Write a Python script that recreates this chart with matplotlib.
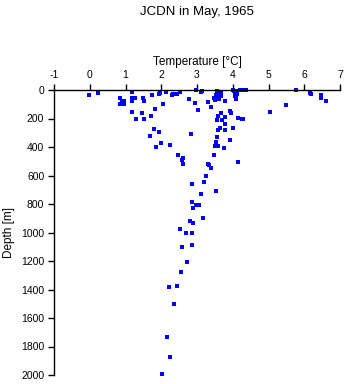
import matplotlib
matplotlib.use("Agg")
import matplotlib.pyplot as plt

plt.rcParams.update({"font.family": ["Liberation Sans", "DejaVu Sans"],
                     "axes.unicode_minus": False})

# temperature [degC] and depth [m] of every sample
temp = [-0.02, 0.23,
        0.84, 0.89, 0.95, 0.84, 0.95,
        1.17, 1.17, 1.26, 1.17, 1.18, 1.28,
        1.46, 1.49, 1.52, 1.52,
        1.72, 1.75, 1.82, 1.80, 1.68, 1.94,
        1.94, 1.96, 2.05, 1.99, 1.86,
        2.14, 2.25,
        2.30, 2.33, 2.43, 2.52,
        2.47, 2.57, 2.60, 2.62,
        2.79, 2.83, 2.86, 2.95, 2.98, 3.02,
        3.11, 2.87, 2.90, 2.98, 3.05, 3.17,
        2.81, 2.90, 2.53, 2.69, 2.86, 2.86, 2.58, 2.73, 2.55, 2.44, 2.22,
        2.36, 2.16, 2.25, 2.02,
        3.10, 3.14,
        3.20, 3.25, 3.31, 3.30, 3.33, 3.38, 3.38,
        3.48, 3.50, 3.54, 3.52, 3.57, 3.60, 3.60, 3.75,
        3.57, 3.70, 3.60, 3.66, 3.63, 3.78, 3.77, 3.79, 3.77,
        3.48, 3.51, 3.53, 3.56, 3.55, 3.62, 3.66, 3.66, 3.62, 3.58, 3.52,
        3.92, 3.94, 3.92, 4.00, 4.15, 4.15, 4.27, 4.30,
        4.00, 4.03, 4.06, 4.08, 4.07, 4.09, 4.10, 4.10, 4.12, 4.06, 4.13,
        4.20, 4.30, 4.38,
        5.03, 5.48, 5.78, 6.15, 6.20, 6.48, 6.48, 6.60]
depth = [35, 23,
         54, 77, 80, 95, 95,
         16, 54, 54, 79, 154, 206,
         164, 54, 79, 206,
         183, 35, 136, 276, 323, 297,
         30, 23, 100, 370, 402,
         16, 388,
         33, 25, 25, 16,
         458, 488, 476, 518,
         65, 311, 662, 94, 2, 143,
         732, 783, 826, 805, 805, 898,
         917, 936, 978, 1006, 1002, 1085, 1100, 1209, 1275, 1375, 1385,
         1504, 1735, 1874, 1993,
         16, 5,
         648, 603, 87, 520, 525, 121, 550,
         458, 390, 367, 711, 327, 280, 390, 409,
         210, 210, 182, 160, 264, 189, 283, 236, 80,
         54, 70, 35, 28, 7, 19, 16, 42, 65, 45, 45,
         145, 160, 351, 264, 199, 508, 206, 206,
         2, 9, 14, 21, 30, 40, 50, 60, 30, 40, 5,
         2, 2, 2,
         154, 105, 2, 19, 30, 35, 54, 79]

xticks = list(range(-1, 8))
yticks = list(range(0, 2001, 200))

fig = plt.figure(figsize=(3.45, 3.84), dpi=100)
ax = fig.add_axes([54 / 345, 1 - 375 / 384, 286 / 345, 285 / 384])
ax.plot(temp, depth, "s", color="#0000ff", ms=2.2, mew=0, clip_on=False)

ax.set_xlim(-1, 7)
ax.set_ylim(2000, 0)
ax.xaxis.tick_top()
ax.xaxis.set_label_position("top")
ax.set_xticks(xticks)
ax.set_yticks(yticks)
ax.spines["right"].set_visible(False)
ax.spines["bottom"].set_visible(False)
for s in ("top", "left"):
    ax.spines[s].set_linewidth(1.0)
ax.tick_params(direction="out", length=4, width=1, labelsize=7.5, pad=3)
ax.set_xlabel("Temperature [°C]", fontsize=8.5, labelpad=4)
ax.set_ylabel("Depth [m]", fontsize=8.5, labelpad=4)
fig.text(197 / 345, 1 - 12 / 384, "JCDN in May, 1965", ha="center", va="center",
         fontsize=9.5)

fig.savefig("out.png", dpi=100)
